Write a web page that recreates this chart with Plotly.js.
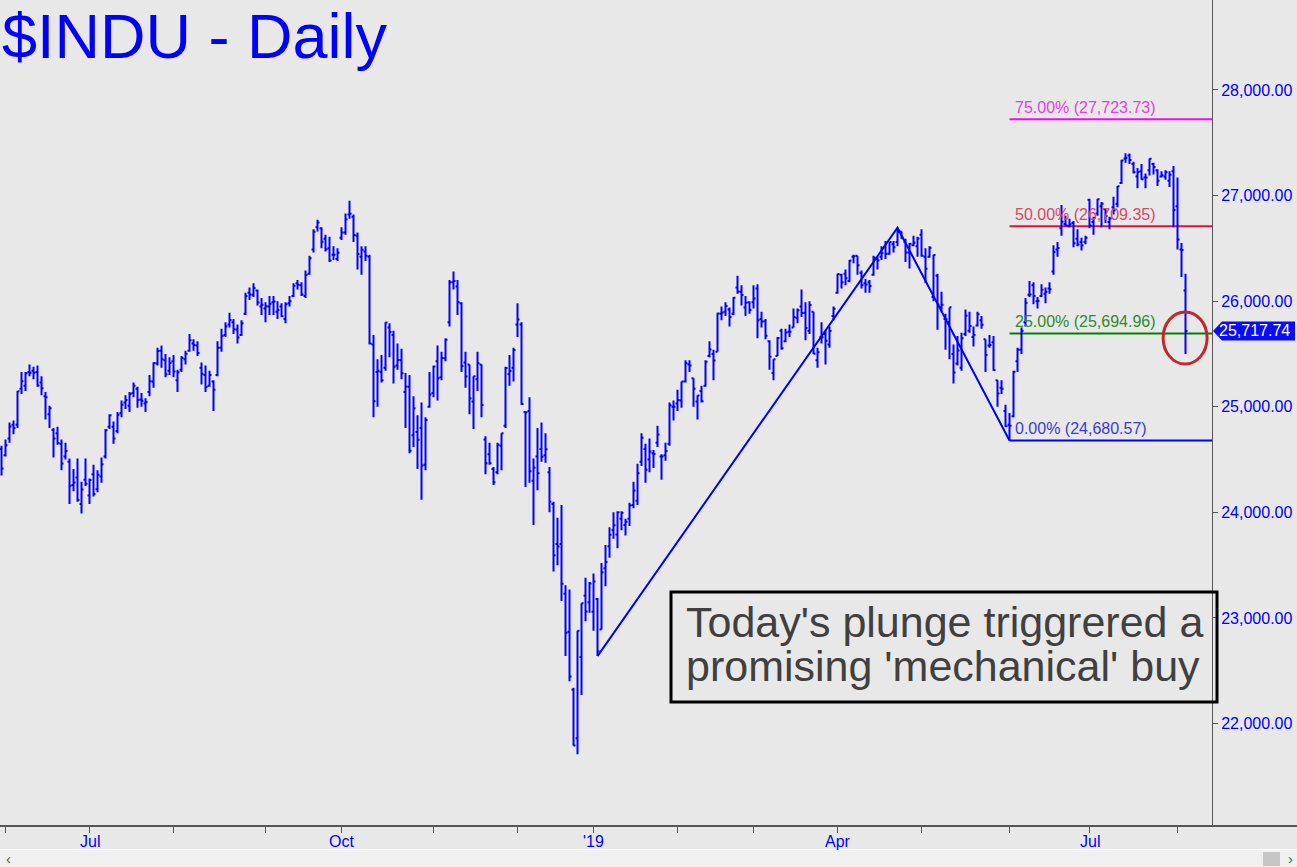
<!DOCTYPE html>
<html>
<head>
<meta charset="utf-8">
<script src="https://cdn.plot.ly/plotly-3.0.1.min.js"></script>
<style>
html,body{margin:0;padding:0;background:#e8e8e8;overflow:hidden;}
#chart{width:1297px;height:867px;}
</style>
</head>
<body>
<div id="chart"></div>
<script>
// ---------------- DATA ----------------
const titleText = '$INDU - Daily';
const startDate = '2018-05-31';
const endDate = '2019-08-05';
const holidays = ['2018-07-04','2018-09-03','2018-11-22','2018-12-05','2018-12-25',
  '2019-01-01','2019-01-21','2019-02-18','2019-04-19','2019-05-27','2019-07-04'];

const openP = [
 24600,
 24540,24700,24830,24830,25170,25200,25330,25340,25330,25230,25100,24930,24780,24750,24650,24530,24480,24260,24330,24080,24310,
 24160,24360,24220,24340,24530,24810,24810,24770,24940,25040,25010,25130,25170,25070,25030,25140,25240,25410,25530,25440,25340,
 25430,25250,25350,25450,25530,25600,25580,25370,25300,25200,25240,25300,25560,25680,25780,25800,25730,25680,25880,26080,26060,26100,25950,
 25930,25950,25990,25900,25950,25830,25980,26050,26170,26150,26050,26260,26490,26700,26690,26590,26500,26440,26400,
 26600,26650,26820,26800,26620,26420,26470,26420,25590,25330,25330,25370,25750,25680,25390,25440,25140,25190,24730,24760,24800,24450,25000,
 25130,25430,25280,25460,25800,26180,26140,25980,25420,25400,25050,25260,25400,24690,24550,24410,24380,24630,24820,25310,25370,
 25780,25780,24950,24960,24300,24530,24600,24540,24380,24080,23700,23700,23230,22870,22320,21860,22630,23210,23150,
 23060,23180,22890,23470,23680,23830,23790,23940,23880,23940,24070,24110,24480,24600,24500,24560,24660,24530,24540,24650,25000,
 25030,25060,25240,25400,25270,25050,25150,25200,25480,25500,25520,25880,25900,25920,25880,26130,26090,25940,25990,
 25990,26120,25830,25810,25620,25320,25480,25720,25620,25710,25750,25840,25950,25890,25720,25900,25440,25660,25690,25590,25860,
 26080,26250,26260,26190,26420,26430,26270,26170,26180,26250,26400,26420,26510,26450,26540,26560,26660,26560,26460,26530,26520,
 26630,26420,26420,26040,26240,25940,25830,25800,25500,25410,25370,25690,25720,25660,25770,25820,25640,25580,25610,25250,25180,24960,
 24830,24910,25430,25540,25800,26060,26150,26000,26050,26070,26120,26280,26490,26690,26730,26710,26740,26590,26560,26560,
 26960,26750,26830,26900,26870,26750,26890,26920,27120,27350,27380,27300,27180,27230,27170,27240,27300,27240,27180,27180,27140,27230,
 26900,26490,26100
];
const highP = [
 24630,
 24690,24850,24870,25150,25330,25330,25400,25380,25390,25290,25140,25010,24800,24810,24690,24660,24510,24410,24510,24290,24510,
 24320,24450,24400,24520,24790,24930,24860,24950,25060,25110,25140,25230,25190,25130,25080,25300,25420,25560,25580,25500,25470,
 25490,25350,25480,25530,25690,25640,25620,25420,25390,25340,25250,25620,25740,25800,25890,25830,25780,25820,26080,26130,26170,26110,26030,
 25990,26050,26050,26000,25980,25990,26050,26170,26200,26180,26290,26430,26680,26770,26700,26630,26610,26520,26500,
 26700,26830,26950,26820,26650,26520,26520,26440,25680,25450,25490,25800,25790,25720,25600,25550,25320,25300,25100,24920,25040,24900,25330,
 25390,25580,25520,25650,26200,26280,26200,25990,25520,25400,25290,25520,25400,24720,24660,24430,24660,24750,25380,25490,25560,
 25980,25800,24950,25090,24510,24800,24850,24750,24430,24100,23950,24070,23310,23270,22340,22880,23140,23380,23340,
 23420,23190,23520,23690,23860,24000,24010,24010,23940,24090,24290,24460,24750,24650,24700,24590,24820,24550,24660,25040,25060,
 25160,25240,25440,25440,25270,25110,25200,25440,25620,25540,25890,25950,25990,25940,26040,26240,26150,26050,26000,
 26150,26160,25900,25830,25630,25450,25660,25740,25740,25780,25930,25930,26110,25990,26000,25900,25560,25800,25720,25760,25950,
 26260,26260,26300,26390,26440,26430,26290,26210,26200,26430,26420,26520,26570,26560,26570,26696,26660,26590,26550,26620,26610,
 26680,26500,26520,26440,26260,26090,25880,25940,25590,25670,25700,25920,25900,25760,25900,25860,25640,25680,25670,25250,25250,25020,
 24940,25340,25560,25750,26030,26190,26180,26040,26160,26130,26180,26530,26560,26910,26810,26780,26760,26680,26600,26620,
 26970,26800,26970,26940,26880,26800,26990,27090,27340,27400,27399,27320,27260,27300,27210,27350,27310,27250,27230,27240,27230,27280,
 27170,26550,26260
];
const lowP = [
 24350,
 24530,24660,24740,24800,25120,25150,25290,25260,25190,25110,24880,24800,24520,24640,24400,24500,24080,24200,24100,23990,24250,
 24080,24150,24190,24280,24510,24790,24650,24750,24900,24980,24950,25090,24990,25000,24950,25100,25180,25390,25370,25280,25300,
 25280,25140,25330,25400,25520,25530,25480,25210,25140,25190,24960,25290,25520,25660,25750,25690,25600,25670,25870,26010,26040,25960,25870,
 25800,25870,25870,25830,25850,25790,25950,26040,26110,26050,26030,26250,26460,26660,26500,26470,26370,26390,26380,
 26580,26630,26780,26560,26300,26250,26380,25590,24900,25000,25230,25340,25470,25220,25350,25260,24800,24560,24620,24410,24120,24400,24990,
 25090,25060,25250,25430,25760,26110,25870,25330,25180,24930,24790,25150,24900,24360,24450,24260,24360,24400,24800,25200,25240,
 25660,25020,24240,24280,23880,24210,24480,24470,24000,23440,23500,23160,22640,22400,21790,21710,22270,22970,23050,
 22880,22640,22890,23300,23570,23750,23660,23830,23780,23870,24040,24070,24440,24280,24380,24420,24620,24310,24490,24630,24870,
 24960,24990,25230,25330,25000,24880,25040,25190,25470,25250,25520,25820,25860,25760,25870,26070,25960,25860,25880,
 25930,25650,25750,25640,25350,25250,25480,25540,25610,25660,25750,25790,25850,25630,25690,25500,25370,25600,25400,25560,25820,
 26070,26120,26150,26180,26360,26250,26120,26080,26080,26240,26300,26390,26400,26440,26460,26520,26590,26370,26310,26520,26420,
 26420,26170,26410,26000,25730,25900,25540,25450,25220,25390,25340,25670,25700,25570,25760,25740,25330,25560,25340,25000,25120,24810,
 24681,24900,25330,25500,25760,26040,25970,25930,26040,25980,26070,26250,26420,26620,26710,26700,26510,26520,26480,26540,
 26690,26630,26810,26700,26740,26680,26820,26890,27110,27310,27300,27210,27070,27150,27070,27190,27200,27090,27170,27150,27080,26700,
 26490,26230,25500
];
const closeP = [
 24416,
 24635,24814,24800,25146,25241,25317,25322,25321,25201,25175,25090,24987,24700,24658,24462,24581,24253,24283,24118,24216,24271,
 24307,24175,24357,24456,24777,24920,24700,24925,25019,25065,25120,25199,25064,25058,25044,25242,25414,25527,25451,25307,25415,
 25334,25326,25463,25502,25629,25584,25509,25313,25188,25300,25162,25559,25669,25759,25822,25734,25657,25790,26050,26064,26125,25987,25965,
 25952,25975,25996,25917,25857,25971,25999,26146,26155,26062,26247,26406,26657,26744,26562,26492,26385,26440,26458,
 26651,26774,26828,26627,26447,26487,26431,25599,25053,25340,25251,25798,25707,25379,25444,25317,25191,24583,24985,24688,24443,24875,25116,
 25381,25271,25462,25635,26180,26191,25989,25387,25286,25081,25289,25413,25017,24466,24465,24286,24640,24749,25366,25339,25538,
 25826,25027,24948,24389,24423,24370,24527,24597,24101,23593,23676,23324,22860,22445,21792,22878,23139,23062,23327,
 23346,22686,23433,23531,23787,23879,24002,23996,23910,24066,24207,24370,24706,24404,24576,24553,24737,24528,24580,25015,25000,
 25064,25239,25412,25390,25170,25106,25053,25426,25543,25439,25883,25891,25954,25851,26032,26092,26058,25985,25916,
 26026,25820,25807,25673,25473,25450,25651,25555,25703,25710,25849,25914,25887,25746,25963,25502,25517,25658,25626,25717,25929,
 26258,26179,26218,26385,26425,26341,26151,26157,26143,26412,26385,26453,26450,26560,26511,26656,26597,26462,26543,26554,26593,
 26430,26308,26505,26438,25965,25967,25828,25942,25325,25532,25648,25863,25764,25680,25877,25777,25490,25586,25348,25126,25170,24815,
 24820,25332,25540,25721,25984,26063,26049,26005,26107,26090,26113,26466,26504,26753,26719,26728,26548,26537,26527,26600,
 26717,26787,26966,26922,26806,26783,26860,27088,27332,27359,27336,27220,27223,27154,27172,27349,27270,27141,27192,27221,27198,26864,
 26583,26485,25717.74
];

const zigDates = ['2019-01-03','2019-04-23','2019-06-03'];
const zigValues = [22638.41, 26695.96, 24680.57];

const fibAnchor = '2019-06-03';
const fibLevels = [24680.57, 25694.96, 26709.35, 27723.73];
const fibPcts = ['0.00%','25.00%','50.00%','75.00%'];

const monthTickDates = ['2018-06-01','2018-07-02','2018-08-01','2018-09-04','2018-10-01','2018-11-01','2018-12-03',
  '2019-01-02','2019-02-01','2019-03-01','2019-04-01','2019-05-01','2019-06-03','2019-07-01','2019-08-01'];
const monthTickText = ['','Jul','','','Oct','','',"'19",'','','Apr','','','Jul',''];
const yTickVals = [22000,23000,24000,25000,26000,27000,28000];

const lastPrice = 25717.74;
const noteLines = ["Today's plunge triggrered a", "promising 'mechanical' buy"];

// ---------------- STYLE ----------------
const BG = '#e8e8e8';
const BLUE = '#0000ff';
const FONT = 'Liberation Sans, Arial, sans-serif';
const fibLineColors = ['#0000ff','#008000','#dc143c','#ff00ff'];
const fibTextColors = ['#3a3ad8','#2e8b2e','#d9475f','#e23ee2'];
const plotR = 1212, plotB = 826;
const pxX = px => px / plotR;
const pxY = py => (plotB - py) / plotB;
const xRange = [-0.375, 302.625];
const yRange = [21030, 28852];

function tradingDays(start, end, hol) {
  const out = [];
  const d = new Date(start + 'T00:00:00Z');
  const e = new Date(end + 'T00:00:00Z');
  while (d <= e) {
    const s = d.toISOString().slice(0, 10);
    const w = d.getUTCDay();
    if (w !== 0 && w !== 6 && hol.indexOf(s) < 0) out.push(s);
    d.setUTCDate(d.getUTCDate() + 1);
  }
  return out;
}
const dates = tradingDays(startDate, endDate, holidays);

function fmt2(v) {
  const parts = v.toFixed(2).split('.');
  parts[0] = parts[0].replace(/\B(?=(\d{3})+(?!\d))/g, ',');
  return parts.join('.');
}

const fibIdx = dates.indexOf(fibAnchor);
const lastIdx = dates.length - 1;

const traces = [
  {
    type: 'ohlc', x: dates, open: openP, high: highP, low: lowP, close: closeP,
    increasing: {line: {color: BLUE, width: 2}},
    decreasing: {line: {color: BLUE, width: 2}},
    line: {width: 2}, tickwidth: 0.5, hoverinfo: 'skip', showlegend: false
  },
  {
    type: 'scatter', mode: 'lines', x: zigDates, y: zigValues,
    line: {color: BLUE, width: 2}, hoverinfo: 'skip', showlegend: false
  }
];

const shapes = [];
// scrollbar (behind everything)
shapes.push({type: 'rect', xref: 'paper', yref: 'paper', x0: 0, x1: 1297 / plotR, y0: pxY(868), y1: pxY(849),
  fillcolor: '#f0f0f0', line: {width: 0}, layer: 'below'});
shapes.push({type: 'line', xref: 'paper', yref: 'paper', x0: 0, x1: 1297 / plotR, y0: pxY(849.5), y1: pxY(849.5),
  line: {color: '#ffffff', width: 1}, layer: 'below'});
shapes.push({type: 'rect', xref: 'paper', yref: 'paper', x0: pxX(1263), x1: pxX(1280), y0: pxY(866), y1: pxY(852),
  fillcolor: '#c6c6c6', line: {width: 0}, layer: 'below'});
fibLevels.forEach((lv, i) => {
  shapes.push({type: 'line', xref: 'x', yref: 'y', x0: fibIdx, x1: xRange[1], y0: lv, y1: lv,
    line: {color: fibLineColors[i], width: 2}, layer: 'below'});
});
// extended x-axis baseline
shapes.push({type: 'line', xref: 'paper', yref: 'paper', x0: 0, x1: 1297 / plotR, y0: 0, y1: 0,
  line: {color: '#555555', width: 2}});
// red highlight ellipse around last bar
shapes.push({type: 'circle', xref: 'x', yref: 'y', x0: lastIdx - 5.6, x1: lastIdx + 5.4, y0: 25405, y1: 25898,
  line: {color: '#c0282d', width: 3}});
// last price tag
shapes.push({type: 'path', xref: 'paper', yref: 'y', xsizemode: 'pixel', ysizemode: 'pixel',
  xanchor: 1, yanchor: lastPrice, path: 'M1,0 L10,9.5 L83,9.5 L83,-9.5 L10,-9.5 Z',
  fillcolor: '#0a0aff', line: {width: 0}});
// note box
shapes.push({type: 'rect', xref: 'paper', yref: 'paper', x0: pxX(671), x1: pxX(1217), y0: pxY(702), y1: pxY(592),
  line: {color: '#000000', width: 3}, fillcolor: 'rgba(0,0,0,0)'});

const annotations = [];
annotations.push({xref: 'paper', yref: 'paper', x: 0, y: pxY(36), xanchor: 'left', yanchor: 'middle',
  text: titleText, showarrow: false, font: {family: FONT, size: 63, color: BLUE}});
fibLevels.forEach((lv, i) => {
  annotations.push({xref: 'x', yref: 'y', x: fibIdx, y: lv, xanchor: 'left', yanchor: 'middle',
    xshift: 3, yshift: 12, showarrow: false,
    text: fibPcts[i] + ' (' + fmt2(lv) + ')', font: {family: FONT, size: 16, color: fibTextColors[i]}});
});
annotations.push({xref: 'paper', yref: 'y', x: pxX(1254), y: lastPrice, xanchor: 'center', yanchor: 'middle',
  text: fmt2(lastPrice), showarrow: false, font: {family: FONT, size: 16, color: '#ffffff'}});
noteLines.forEach((t, i) => {
  annotations.push({xref: 'paper', yref: 'paper', x: pxX(684), y: pxY(622 + i * 44), xanchor: 'left', yanchor: 'middle',
    text: t, showarrow: false, font: {family: FONT, size: 43, color: '#404040'}});
});
// month labels under the axis
monthTickDates.forEach((d, i) => {
  if (!monthTickText[i]) return;
  annotations.push({xref: 'x', yref: 'paper', x: dates.indexOf(d), y: pxY(841), xanchor: 'center', yanchor: 'middle',
    text: monthTickText[i], showarrow: false, font: {family: FONT, size: 16, color: BLUE}});
});
annotations.push({xref: 'paper', yref: 'paper', x: pxX(8), y: pxY(858), xanchor: 'center', yanchor: 'middle',
  text: '\u2039', showarrow: false, font: {family: FONT, size: 15, color: '#555555'}});
annotations.push({xref: 'paper', yref: 'paper', x: pxX(1290), y: pxY(858), xanchor: 'center', yanchor: 'middle',
  text: '\u203A', showarrow: false, font: {family: FONT, size: 15, color: '#555555'}});

const layout = {
  width: 1297, height: 867,
  margin: {l: 0, r: 85, t: 0, b: 41, pad: 0},
  paper_bgcolor: BG, plot_bgcolor: BG,
  showlegend: false,
  xaxis: {
    type: 'category', range: xRange, rangeslider: {visible: false},
    tickmode: 'array', tickvals: monthTickDates, ticktext: monthTickText, showticklabels: false,
    ticks: 'outside', ticklen: 6, tickwidth: 1, tickcolor: '#555555',
    showgrid: false, zeroline: false, showline: false, fixedrange: true
  },
  yaxis: {
    side: 'right', range: yRange, tickmode: 'array', tickvals: yTickVals, tickformat: ',.2f',
    ticks: 'outside', ticklen: 5, tickwidth: 1, tickcolor: '#555555',
    tickfont: {family: FONT, size: 16, color: BLUE},
    showgrid: false, zeroline: false, showline: true, linecolor: '#555555', linewidth: 1, fixedrange: true
  },
  shapes: shapes,
  annotations: annotations
};

Plotly.newPlot('chart', traces, layout, {staticPlot: true, displayModeBar: false});
</script>
</body>
</html>
